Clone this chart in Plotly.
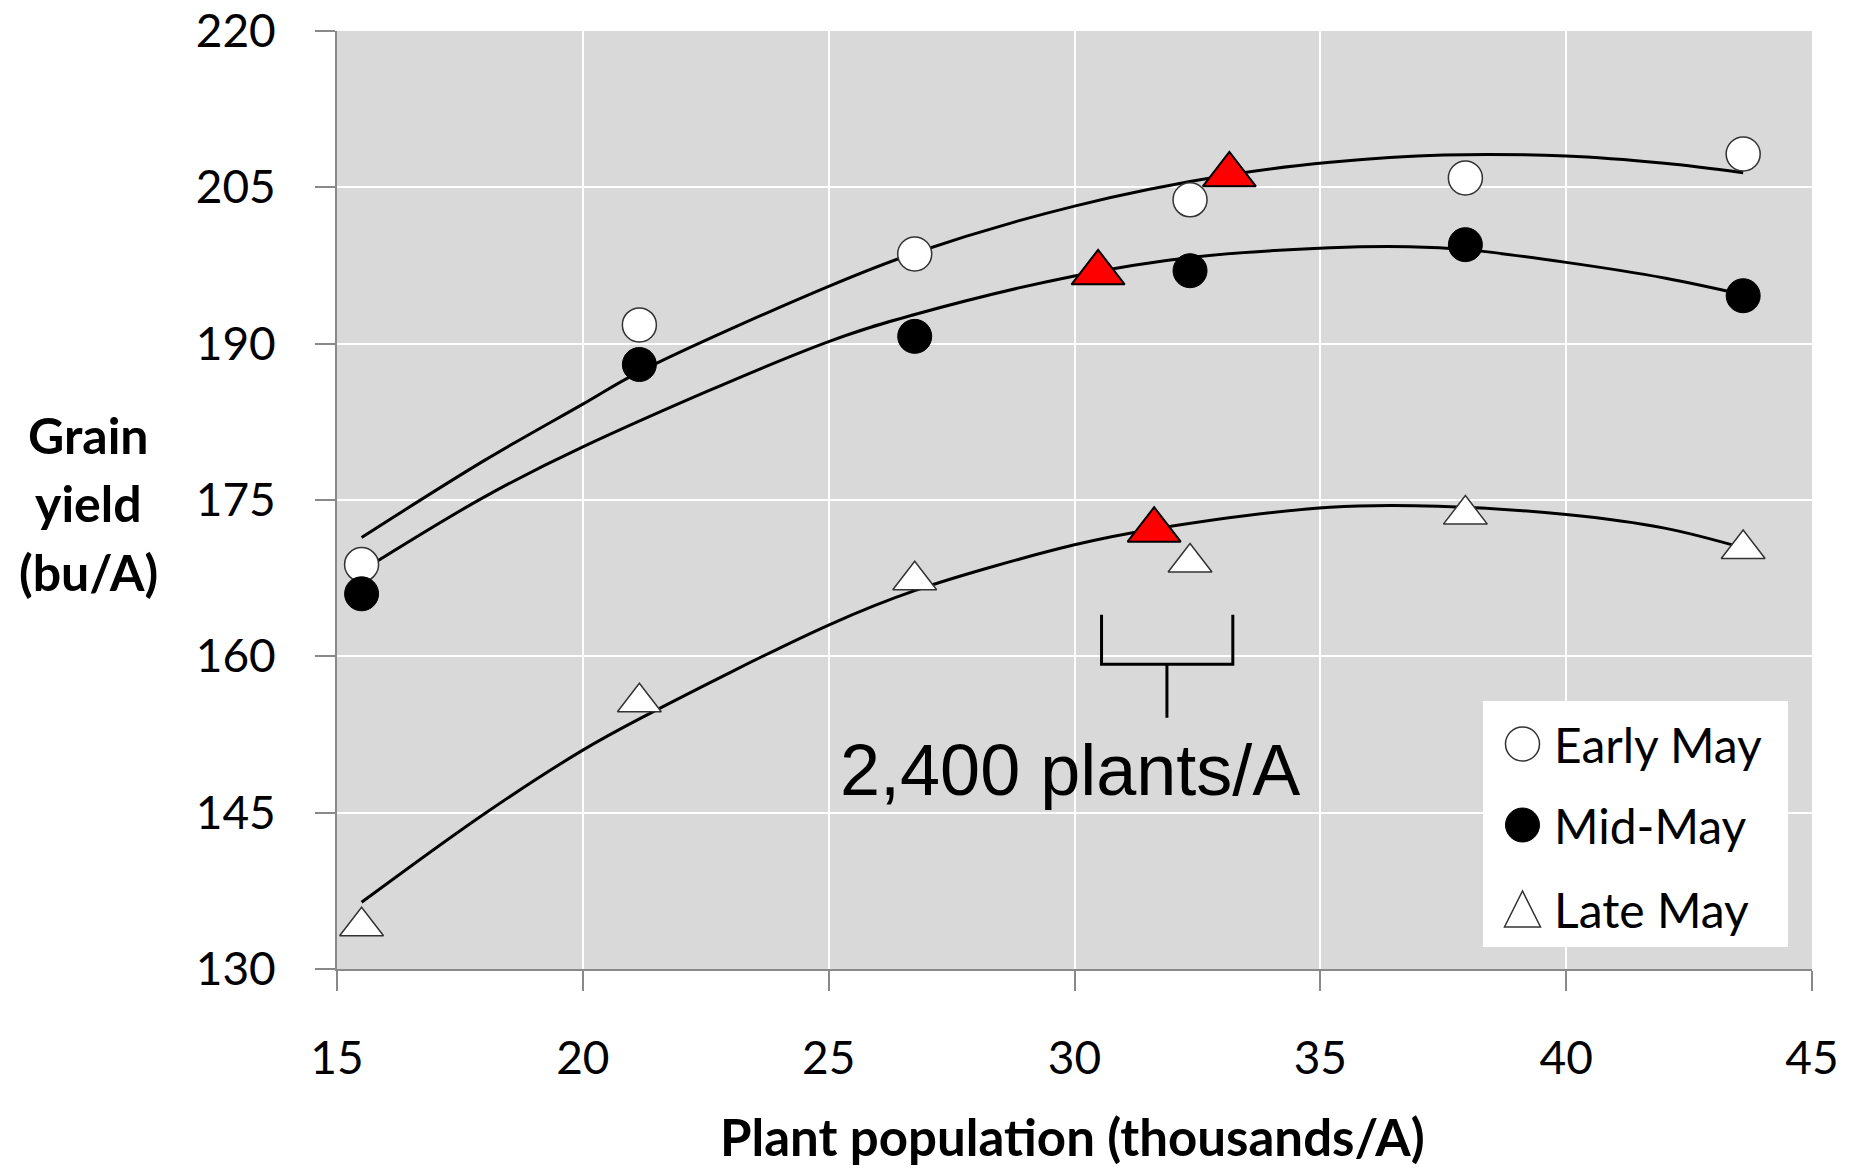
import plotly.graph_objects as go

# ---------------- data ----------------
population = [15.5, 21.15, 26.75, 32.35, 37.95, 43.6]
early_may = [168.8, 191.8, 198.6, 203.8, 205.9, 208.2]
mid_may = [166.0, 188.0, 190.7, 197.0, 199.5, 194.6]
late_may = [134.1, 155.6, 167.3, 169.0, 173.6, 170.3]

# fitted response curves
early_curve_x = [15.5, 18, 20, 21.15, 25, 26.75, 30, 33.15, 35.2, 37.5, 40, 42, 43.6]
early_curve_y = [171.4, 178.8, 184.2, 187.3, 195.5, 198.7, 203.2, 206.2, 207.4, 208.1, 208.0, 207.3, 206.4]
mid_curve_x = [15.5, 18, 20, 25, 26.75, 30, 32.4, 35.2, 36.8, 38, 40, 42, 43.6]
mid_curve_y = [168.2, 175.3, 180.1, 190.2, 192.8, 196.5, 198.3, 199.2, 199.3, 199.0, 197.8, 196.3, 194.7]
late_curve_x = [15.5, 18, 20, 21.15, 25, 26.75, 30, 31.6, 35.2, 37.4, 40, 42, 43.6]
late_curve_y = [136.4, 144.9, 151.0, 154.0, 163.0, 166.3, 170.7, 172.2, 174.3, 174.4, 173.6, 172.3, 170.4]

# optimum populations marked with red triangles
optimum_x = [33.15, 30.48, 31.62]
optimum_y = [206.2, 196.8, 172.1]

# bracket showing the 2,400 plants/A range
bracket_left, bracket_right, bracket_stem = 30.55, 33.22, 31.88
bracket_top, bracket_bar, bracket_bottom = 164.0, 159.25, 154.1
bracket_label = "2,400 plants/A"
label_x, label_y = 29.9, 149.1

series_names = ["Early May", "Mid-May", "Late May"]
x_ticks = [15, 20, 25, 30, 35, 40, 45]
y_ticks = [130, 145, 160, 175, 190, 205, 220]

# ---------------- figure ----------------
W, H = 1857, 1169
PL, PR, PT, PB = 337, 1812, 31, 969     # plot area in page pixels
L, T = PL, PT
R, B = W - PR, H - PB
pw, ph = PR - PL, PB - PT


def px(X):
    return (X - PL) / pw


def py(Y):
    return (PB - Y) / ph


fig = go.Figure()

for cx, cy in [(early_curve_x, early_curve_y), (mid_curve_x, mid_curve_y), (late_curve_x, late_curve_y)]:
    fig.add_trace(go.Scatter(x=cx, y=cy, mode="lines", showlegend=False, hoverinfo="skip",
                             line=dict(color="black", width=3, shape="spline", smoothing=1.0)))

fig.add_trace(go.Scatter(x=population, y=early_may, mode="markers", name=series_names[0], showlegend=False,
                         marker=dict(symbol="circle", size=34, color="white",
                                     line=dict(color="#333333", width=1.5))))
fig.add_trace(go.Scatter(x=population, y=mid_may, mode="markers", name=series_names[1], showlegend=False,
                         marker=dict(symbol="circle", size=34, color="black",
                                     line=dict(color="black", width=1))))
fig.add_trace(go.Scatter(x=population, y=late_may, mode="markers", name=series_names[2], showlegend=False,
                         marker=dict(symbol="triangle-up", size=38, color="white",
                                     line=dict(color="#333333", width=1.5))))
fig.add_trace(go.Scatter(x=optimum_x, y=optimum_y, mode="markers", name="Optimum", showlegend=False,
                         marker=dict(symbol="triangle-up", size=46, color="#FF0000",
                                     line=dict(color="black", width=2))))

# bracket
fig.add_shape(type="path", xref="x", yref="y",
              path=(f"M {bracket_left},{bracket_top} L {bracket_left},{bracket_bar} "
                    f"L {bracket_right},{bracket_bar} L {bracket_right},{bracket_top} "
                    f"M {bracket_stem},{bracket_bar} L {bracket_stem},{bracket_bottom}"),
              line=dict(color="black", width=3))
fig.add_annotation(x=label_x, y=label_y, xref="x", yref="y", text=bracket_label, showarrow=False,
                   xanchor="center", yanchor="middle",
                   font=dict(family="Liberation Sans, Arial", size=72, color="black"))

# legend with large symbols like the original
fig.add_shape(type="rect", xref="paper", yref="paper",
              x0=px(1483), x1=px(1788), y0=py(947), y1=py(701),
              fillcolor="white", line=dict(width=0), layer="above")
leg_y = [744, 825, 909]
sym_x = px(1522.5)
fig.add_shape(type="circle", xref="paper", yref="paper", xsizemode="pixel", ysizemode="pixel",
              xanchor=sym_x, yanchor=py(leg_y[0]), x0=-17, x1=17, y0=-17, y1=17,
              fillcolor="white", line=dict(color="#333333", width=1.5))
fig.add_shape(type="circle", xref="paper", yref="paper", xsizemode="pixel", ysizemode="pixel",
              xanchor=sym_x, yanchor=py(leg_y[1]), x0=-17, x1=17, y0=-17, y1=17,
              fillcolor="black", line=dict(color="black", width=1))
fig.add_shape(type="path", xref="paper", yref="paper", xsizemode="pixel", ysizemode="pixel",
              xanchor=sym_x, yanchor=py(leg_y[2]),
              path="M -18,-18 L 18,-18 L 0,18 Z",
              fillcolor="white", line=dict(color="#333333", width=1.5))
for name, yy in zip(series_names, leg_y):
    fig.add_annotation(x=px(1552), y=py(yy), xref="paper", yref="paper", text=name, showarrow=False,
                       xanchor="left", yanchor="middle",
                       font=dict(family="Lato", size=48, color="black"))

# axis titles
for word, yy in zip(["Grain", "yield", "(bu/A)"], [435, 503, 572]):
    fig.add_annotation(x=px(88), y=py(yy), xref="paper", yref="paper",
                       text=f"<b>{word}</b>", showarrow=False,
                       xanchor="center", yanchor="middle",
                       font=dict(family="Lato", size=50, color="black"))
fig.add_annotation(x=px(1072), y=py(1136), xref="paper", yref="paper",
                   text="<b>Plant population (thousands/A)</b>", showarrow=False,
                   xanchor="center", yanchor="middle",
                   font=dict(family="Lato", size=51, color="black"))

axis_common = dict(showgrid=True, gridcolor="white", gridwidth=2, zeroline=False,
                   showline=True, linecolor="#898989", linewidth=2, automargin=False,
                   ticks="outside", tickcolor="#898989", tickwidth=2, ticklen=20,
                   ticklabeloverflow="allow",
                   tickfont=dict(family="Lato", size=46, color="black"))

fig.update_xaxes(range=[15, 45], tickvals=x_ticks, ticklabelstandoff=28, **axis_common)
fig.update_yaxes(range=[130, 220], tickvals=y_ticks, ticklabelstandoff=30, **axis_common)

fig.update_layout(width=W, height=H, margin=dict(l=L, r=R, t=T, b=B, autoexpand=False),
                  plot_bgcolor="#D9D9D9", paper_bgcolor="white", showlegend=False)

fig.write_html("out.html", config={"displayModeBar": False},
               post_script="document.body.style.margin='0';document.body.style.overflow='hidden';")
